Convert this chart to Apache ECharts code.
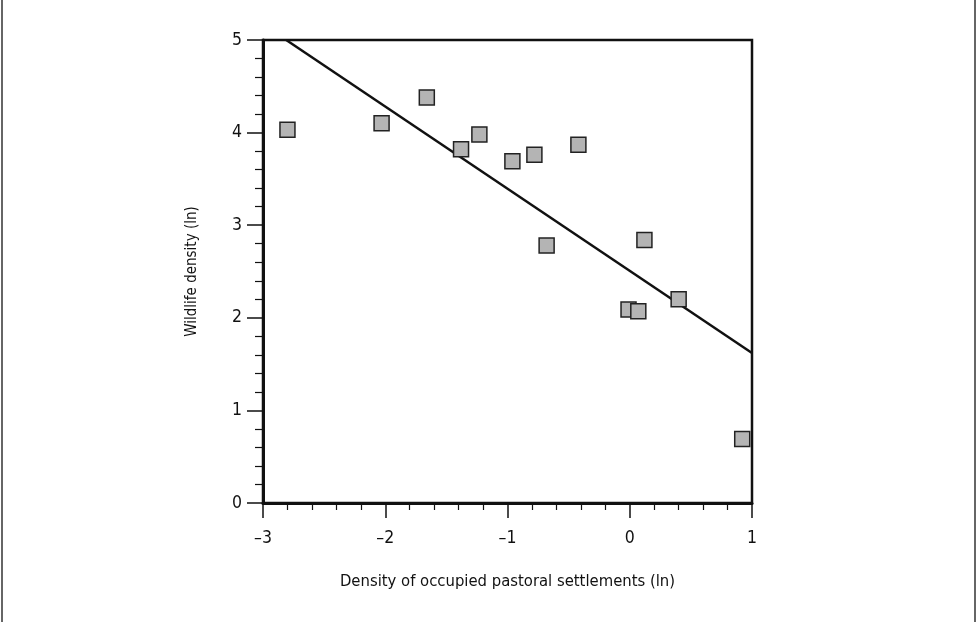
<!DOCTYPE html>
<html>
<head>
<meta charset="utf-8">
<script src="https://cdn.jsdelivr.net/npm/echarts@6/dist/echarts.min.js"></script>
<style>
	html, body { margin: 0; padding: 0; background: #fff; }
	#chart { width: 976px; height: 622px; }
</style>
</head>
<body>
<div id="chart"></div>
<script>
	// settlements density (ln) vs wildlife density (ln)
	let settlements = [-2.80, -2.03, -1.66, -1.38, -1.23, -0.96, -0.78, -0.42, -0.68, 0.12, -0.01, 0.07, 0.40, 0.92];
	let wildlife = [4.03, 4.10, 4.38, 3.82, 3.98, 3.69, 3.76, 3.87, 2.78, 2.84, 2.09, 2.07, 2.20, 0.69];
	// fitted line end points
	let fitX = [-2.81, 1];
	let fitY = [5, 1.62];

	let font = "'Liberation Sans Narrow', 'DejaVu Sans Condensed', sans-serif";
	let myChart = echarts.init(document.getElementById('chart'));

	let points = settlements.map((x, i) => [x, wildlife[i]]);
	let fit = fitX.map((x, i) => [x, fitY[i]]);

	let option = {
		backgroundColor: '#fff',
		animation: false,
		grid: {
			left: 263,
			right: 224,
			top: 40,
			bottom: 119,
			show: true,
			borderColor: '#111',
			borderWidth: 2.5
		},
		xAxis: {
			type: 'value',
			min: -3,
			max: 1,
			interval: 1,
			name: 'Density of occupied pastoral settlements (ln)',
			nameLocation: 'middle',
			nameGap: 70,
			nameTextStyle: { fontFamily: font, fontSize: 16.5, color: '#111' },
			axisLine: { show: true, onZero: false, lineStyle: { color: '#111', width: 3 } },
			axisTick: { show: true, length: 15, lineStyle: { color: '#111', width: 1.5 } },
			minorTick: { show: true, splitNumber: 5, length: 7, lineStyle: { color: '#111', width: 1.2 } },
			axisLabel: {
				margin: 26,
				fontFamily: font,
				fontSize: 17.5,
				color: '#111',
				formatter: v => String(v).replace('-', '\u2013')
			},
			splitLine: { show: false }
		},
		yAxis: {
			type: 'value',
			min: 0,
			max: 5,
			interval: 1,
			name: 'Wildlife density (ln)',
			nameLocation: 'middle',
			nameGap: 63,
			nameRotate: 90,
			nameTextStyle: { fontFamily: font, fontSize: 15, color: '#111' },
			axisLine: { show: true, onZero: false, lineStyle: { color: '#111', width: 3 } },
			axisTick: { show: true, length: 16, lineStyle: { color: '#111', width: 1.5 } },
			minorTick: { show: true, splitNumber: 5, length: 8, lineStyle: { color: '#111', width: 1.2 } },
			axisLabel: {
				margin: 21,
				fontFamily: font,
				fontSize: 17.5,
				color: '#111'
			},
			splitLine: { show: false }
		},
		graphic: [
			{ type: 'line', shape: { x1: 2, y1: 0, x2: 2, y2: 622 }, style: { stroke: '#333', lineWidth: 1.5 } },
			{ type: 'line', shape: { x1: 975, y1: 0, x2: 975, y2: 622 }, style: { stroke: '#333', lineWidth: 1.5 } }
		],
		series: [
			{
				type: 'line',
				data: fit,
				symbol: 'none',
				lineStyle: { color: '#111', width: 2.5 },
				z: 2
			},
			{
				type: 'scatter',
				data: points,
				symbol: 'rect',
				symbolSize: 15,
				itemStyle: { color: '#b4b4b4', borderColor: '#222', borderWidth: 1.5, opacity: 1 },
				z: 3
			}
		]
	};
	myChart.setOption(option);
</script>
</body>
</html>
